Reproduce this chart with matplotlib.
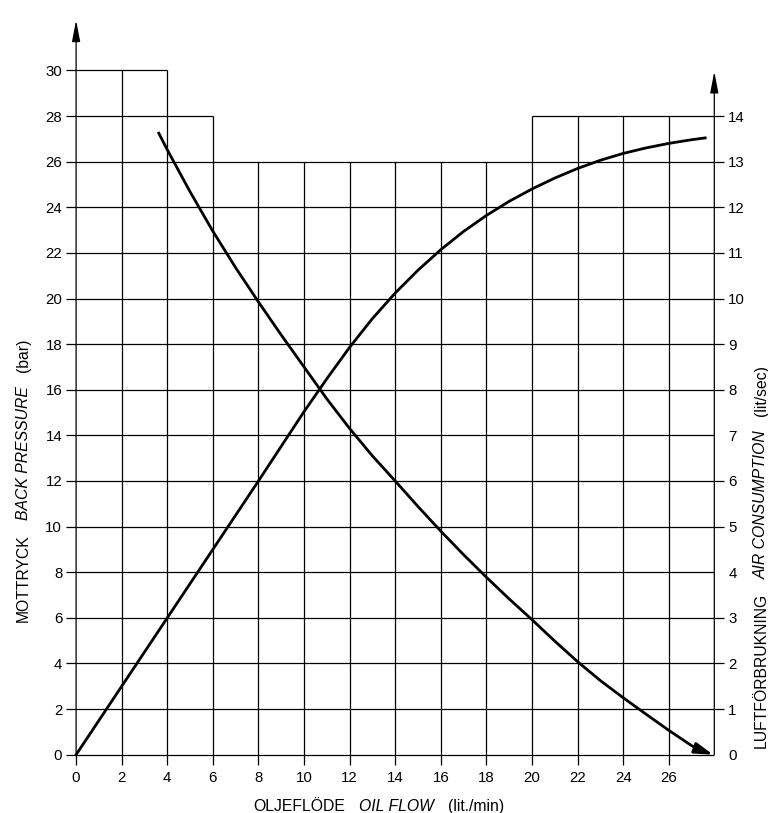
import matplotlib
matplotlib.use("Agg")
import matplotlib.pyplot as plt
from matplotlib.transforms import IdentityTransform

# ---------------- data ----------------
# Back pressure (bar) vs oil flow (lit/min) - left axis
bp_flow = [3.6, 4, 5, 6, 7, 8, 9, 10, 11, 12, 13, 14, 15, 16, 17, 18,
           19, 20, 21, 22, 23, 24, 25, 26, 27, 27.4]
bp_pressure = [27.3, 26.52, 24.68, 22.95, 21.35, 19.85, 18.4, 17.0, 15.6,
               14.3, 13.1, 12.0, 10.88, 9.8, 8.77, 7.78, 6.83, 5.92, 4.98,
               4.08, 3.25, 2.5, 1.78, 1.07, 0.4, 0.2]
bp_arrow_tip = (27.95, 0.0)

# Air consumption (lit/sec) vs oil flow (lit/min) - right axis
air_flow = [0, 1, 2, 3, 4, 5, 6, 7, 8, 9, 10, 11, 12, 13, 14, 15, 16,
            17, 18, 19, 20, 21, 22, 23, 24, 25, 26, 27, 27.6]
air_cons = [0, 0.75, 1.5, 2.25, 3.0, 3.75, 4.5, 5.25, 6.0, 6.76, 7.52, 8.24,
            8.93, 9.56, 10.12, 10.62, 11.07, 11.47, 11.82, 12.13, 12.4, 12.64,
            12.85, 13.03, 13.18, 13.3, 13.4, 13.48, 13.52]

x_ticks = list(range(0, 28, 2))
left_ticks = list(range(0, 32, 2))
right_ticks = list(range(0, 15))
right_ticks_without_mark = [0, 4, 7]

# stepped grid outline (top of each vertical grid line)
vgrid_x = [2, 4, 6, 8, 10, 12, 14, 16, 18, 20, 22, 24, 26]
vgrid_top = [30, 30, 28, 26, 26, 26, 26, 26, 26, 28, 28, 28, 28]
# horizontal grid lines: y, list of (x_start, x_end)
hgrid = [(y, [(0, 28)]) for y in range(2, 28, 2)]
hgrid += [(28, [(0, 6), (20, 28)]), (30, [(0, 4)])]

xlabel_parts = [("OLJEFLÖDE", "normal"), ("OIL FLOW", "italic"), ("(lit./min)", "normal")]
ylabel_parts = [("MOTTRYCK", "normal"), ("BACK PRESSURE", "italic"), ("(bar)", "normal")]
y2label_parts = [("LUFTFÖRBRUKNING", "normal"), ("AIR CONSUMPTION", "italic"), ("(lit/sec)", "normal")]

# ---------------- figure ----------------
W, H = 768, 813
fig = plt.figure(figsize=(W / 100, H / 100), dpi=100)
x0_px, x28_px = 76.1, 714.3
y0_px, y30_px = 754.7, 70.4  # from top
ax = fig.add_axes([x0_px / W, (H - y0_px) / H, (x28_px - x0_px) / W, (y0_px - y30_px) / H])
ax.set_xlim(0, 28)
ax.set_ylim(0, 30)
for s in ax.spines.values():
    s.set_visible(False)
ax.patch.set_alpha(0)

tick_family = ["Liberation Sans", "DejaVu Sans"]
tick_size = 10.8
label_font_family = ["Liberation Sans", "DejaVu Sans"]

grid_kw = dict(color="black", lw=0.9, solid_capstyle="butt", clip_on=False, zorder=1)
for x, top in zip(vgrid_x, vgrid_top):
    ax.plot([x, x], [0, top], **grid_kw)
for y, segs in hgrid:
    for a, b in segs:
        ax.plot([a, b], [y, y], **grid_kw)
ax.plot([0, 28], [0, 0], **grid_kw)

# axes with arrows
arrow_kw = dict(arrowstyle="-|>,head_length=1.3,head_width=0.25", lw=0.9, color="black",
                shrinkA=0, shrinkB=0, mutation_scale=10)
ax.annotate("", xy=(0, 32.2), xytext=(0, 0), arrowprops=arrow_kw, annotation_clip=False)
ax.annotate("", xy=(28, 29.95), xytext=(28, 0), arrowprops=arrow_kw, annotation_clip=False)

# ticks
ax.set_xticks(x_ticks)
ax.set_yticks(left_ticks)
ax.tick_params(direction="out", length=7, width=0.9, colors="black")
ax.tick_params(axis="y", pad=3)
ax.tick_params(axis="x", pad=4.5)
for lab in ax.get_xticklabels() + ax.get_yticklabels():
    lab.set_fontfamily(tick_family)
    lab.set_fontsize(tick_size)

ax2 = ax.twinx()
ax2.set_ylim(0, 15)
for s in ax2.spines.values():
    s.set_visible(False)
ax2.set_yticks(right_ticks)
ax2.tick_params(direction="out", length=7, width=0.9, colors="black", pad=3)
for lab in ax2.get_yticklabels():
    lab.set_fontfamily(tick_family)
    lab.set_fontsize(tick_size)
for t, v in zip(ax2.yaxis.get_major_ticks(), right_ticks):
    if v in right_ticks_without_mark:
        t.tick2line.set_visible(False)

# curves
ax.plot(bp_flow, bp_pressure, color="black", lw=2.0, zorder=3, clip_on=False,
        solid_capstyle="butt", solid_joinstyle="round")
ax.annotate("", xy=bp_arrow_tip, xytext=(bp_flow[-1], bp_pressure[-1]),
            arrowprops=dict(arrowstyle="-|>,head_length=1.1,head_width=0.33", lw=2.0,
                            color="black", shrinkA=0, shrinkB=0, mutation_scale=10),
            annotation_clip=False, zorder=3)
ax2.plot(air_flow, air_cons, color="black", lw=2.0, zorder=3, clip_on=False,
         solid_joinstyle="round")

# axis labels built from pieces (mixed upright / italic)
fig.canvas.draw()
renderer = fig.canvas.get_renderer()
ident = IdentityTransform()
gap = 14
lab_size = 11.3


def lay_out(parts, start, rotation):
    x, y = start
    for txt, style in parts:
        if rotation == 0:
            t = fig.text(x, y, txt, transform=ident, ha="left", va="baseline",
                         fontsize=lab_size, fontstyle=style, family=label_font_family)
            bb = t.get_window_extent(renderer)
            x = bb.x1 + gap
        else:
            t = fig.text(x, y, txt, transform=ident, ha="left", va="baseline",
                         rotation=90, rotation_mode="anchor", fontsize=lab_size,
                         fontstyle=style, family=label_font_family)
            bb = t.get_window_extent(renderer)
            y = bb.y1 + gap


lay_out(xlabel_parts, (253, H - 811), 0)
lay_out(ylabel_parts, (28, H - 622), 90)
lay_out(y2label_parts, (766, H - 748), 90)

fig.savefig("out.png", dpi=100)
